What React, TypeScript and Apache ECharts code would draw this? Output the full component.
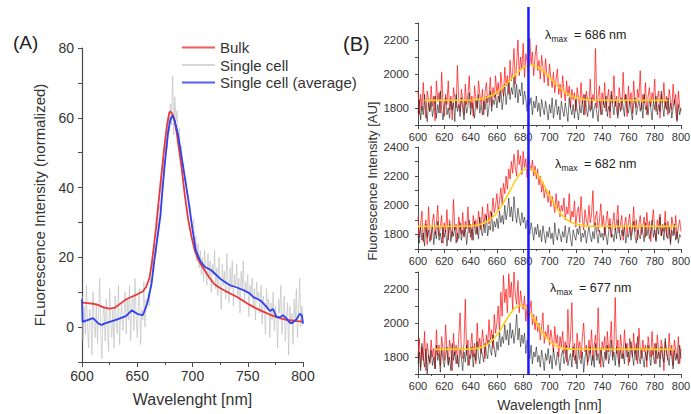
import React, { useEffect, useRef } from 'react';
import * as echarts from 'echarts';

const FONT = '"Liberation Sans", Arial, Helvetica, sans-serif';

// ---------- Panel A ----------
const A_X_TICKS = [600, 650, 700, 750, 800];
const A_Y_TICKS = [0, 20, 40, 60, 80];

const BULK: number[][] = [
  [600, 7], [605, 6.9], [610, 6.7], [615, 6.3], [620, 5.6], [625, 5.3], [630, 5.6], [635, 6.8],
  [640, 8], [645, 8.7], [650, 9.4], [655, 10.2], [658, 11.5], [661, 14], [663, 18], [665, 23],
  [667, 28.5], [670, 38], [673, 47], [675, 53], [677, 58], [679, 61.5], [680, 61.8], [682, 61],
  [684, 59], [686, 55], [688, 50.5], [690, 46], [693, 38], [696, 31], [699, 26], [702, 22],
  [705, 19.5], [708, 17.8], [711, 16.3], [715, 14.3], [720, 12.2], [725, 11.2], [730, 10.3],
  [735, 9.5], [740, 8.7], [745, 7.7], [750, 6.7], [755, 5.8], [760, 5], [765, 4.3], [770, 3.6],
  [775, 3], [780, 2.5], [785, 2.1], [790, 1.9], [795, 1.7], [800, 1.6],
];

const AVERAGE: number[][] = [
  [600, 8], [600.5, 1.5], [605, 2], [610, 2.6], [615, 1], [618, 0.6], [620, 1], [625, 1.5],
  [630, 2], [635, 2.6], [640, 3.2], [645, 4.8], [650, 3.8], [655, 3.4], [658, 5.8], [660, 8],
  [663, 12.6], [665, 18], [668, 25], [671, 32], [673, 40], [675, 47], [678, 56], [680, 59.5],
  [682, 60.7], [684, 59], [687, 55], [690, 49], [692, 45], [696, 37], [700, 28], [703, 22],
  [707, 19], [711, 17.3], [717, 16.3], [722, 14.8], [725, 13.9], [730, 12.8], [734, 12],
  [739, 11.5], [743, 11], [748, 10.3], [752, 9.6], [755, 8.6], [758, 8.2], [762, 7.5],
  [767, 5.8], [770, 4.6], [773, 5.2], [776, 2.9], [779, 2.8], [782, 3.4], [785, 2.5],
  [788, 1.3], [790, 1.1], [794, 2.2], [797, 3.8], [799, 3.4], [800, 1],
];

// Single cell trace, 1 nm steps from 600 to 800
const SINGLE_CELL: number[] = [
  9, -4, 6, -2, 12, 0, -6, 5, 3, -8, 10, 1, -3, 7, -5, 4, 14, -2, -9, 3,
  6, -4, 8, 0, -7, 11, 2, -3, 5, -6, 9, 1, -2, 12, -5, 4, 7, -1, 3, 10,
  -2, 8, 2, 12, -4, 6, 9, -1, 14, 3, -3, 7, 11, -5, 5, 2, 13, 0, 8, 6,
  10, 6, 14, 11, 19, 16, 24, 21, 30, 27, 35, 33, 42, 39, 48, 46, 55, 51, 60, 56,
  64, 58, 72, 55, 66, 59, 62, 53, 57, 50, 52, 46, 47, 42, 43, 38, 38, 34, 35, 30,
  28, 31, 22, 26, 19, 24, 17, 22, 15, 20, 13, 22, 16, 12, 21, 14, 19, 10, 18, 15,
  22, 11, 17, 9, 20, 14, 5, 18, 12, 16, 8, 21, 13, 7, 17, 11, 19, 6, 15, 12,
  18, 9, 14, 4, 16, 11, 19, 7, 13, 10, 15, 3, 12, 9, 14, 6, 11, 2, 13, 8,
  10, 4, 12, 1, 9, 6, -2, 11, 5, 8, -3, 7, 2, 10, -1, 6, 3, -6, 8, 4,
  12, -2, 5, 9, -4, 3, 7, -8, 6, 1, 4, -5, 8, 2, 11, -3, 5, 14, 0, 6,
  3,
];

// ---------- Panel B (1 nm steps, 600..800) ----------
const B_X_START = 600;
const B_BLUE_LINE = 684;
const B_LAMBDA_MAX = ['686', '682', '677'];

const B1_RED = [
  1905, 1760, 1880, 1790, 1950, 1820, 1740, 1900, 1850, 1780,
  1930, 1810, 1870, 1725, 1960, 1840, 1890, 1770, 2010, 1830,
  1750, 1880, 1820, 1960, 1790, 1870, 1730, 1920, 1860, 1800,
  2050, 1840, 1780, 1910, 1850, 1760, 1940, 1820, 1880, 1990,
  1800, 1870, 1750, 1930, 1850, 1790, 1960, 1880, 1820, 1910,
  1760, 1890, 1950, 1830, 1870, 1980, 1810, 1920, 1860, 1990,
  1880, 1950, 1840, 2010, 1920, 1870, 2040, 1930, 1990, 1880,
  2080, 1960, 2010, 2150, 1940, 2060, 2200, 1990, 2100, 2030,
  2180, 1980, 2120, 2070, 2000, 2210, 2060, 2130, 1990, 2100,
  2170, 2020, 2080, 1970, 2110, 2040, 1950, 2090, 2000, 1930,
  2060, 1980, 1920, 2010, 1890, 1970, 2030, 1880, 1940, 1860,
  1990, 1900, 1840, 1960, 1870, 1930, 1800, 1910, 1850, 1890,
  1780, 1920, 1860, 1810, 1950, 1830, 1880, 1760, 1900, 1850,
  1820, 1970, 1790, 1880, 1840, 2150, 1800, 1870, 1930, 1760,
  1890, 1820, 1950, 1780, 1860, 1910, 1740, 1880, 1830, 1990,
  1810, 1870, 1760, 1920, 1850, 1790, 2010, 1840, 1880, 1750,
  1930, 1820, 1890, 1770, 1960, 1840, 1800, 1910, 1860, 2020,
  1790, 1880, 1830, 1950, 1760, 1870, 1920, 1810, 1890, 1840,
  1970, 1780, 1860, 1900, 1740, 1880, 1830, 1950, 1800, 1870,
  1760, 1910, 1850, 1790, 1940, 1820, 1880, 1730, 1900, 1810,
  1780,
];
const B1_BLACK = [
  1770, 1850, 1730, 1810, 1760, 1880, 1790, 1720, 1830, 1780,
  1840, 1750, 1800, 1870, 1740, 1820, 1770, 1900, 1790, 1730,
  1810, 1860, 1760, 1800, 1740, 1850, 1790, 1830, 1720, 1880,
  1780, 1820, 1750, 1860, 1800, 1730, 1840, 1770, 1810, 1890,
  1760, 1830, 1790, 1740, 1850, 1800, 1880, 1770, 1820, 1760,
  1840, 1790, 1870, 1750, 1810, 1900, 1780, 1850, 1820, 1880,
  1800, 1870, 1830, 1910, 1790, 1860, 1940, 1820, 1890, 1960,
  1850, 1920, 1880, 1990, 1860, 1940, 1830, 1910, 1870, 1950,
  1820, 1900, 1850, 1780, 1880, 1820, 1860, 1760, 1840, 1800,
  1870, 1780, 1830, 1750, 1850, 1800, 1760, 1840, 1790, 1730,
  1820, 1770, 1860, 1740, 1800, 1850, 1760, 1810, 1730, 1840,
  1790, 1750, 1830, 1780, 1720, 1860, 1800, 1760, 1820, 1740,
  1850, 1790, 1730, 1810, 1770, 1840, 1760, 1880, 1800, 1750,
  1820, 1780, 1860, 1740, 1800, 1830, 1770, 1720, 1850, 1790,
  1760, 1840, 1800, 1870, 1750, 1810, 1780, 1900, 1820, 1760,
  1850, 1790, 1740, 1830, 1780, 1860, 1810, 1750, 1880, 1800,
  1770, 1840, 1790, 1730, 1820, 1860, 1760, 1800, 1850, 1780,
  1830, 1740, 1880, 1790, 1810, 1760, 1850, 1800, 1730, 1840,
  1790, 1870, 1760, 1820, 1780, 1900, 1810, 1750, 1840, 1790,
  1860, 1770, 1830, 1740, 1800, 1850, 1780, 1720, 1820, 1760,
  1800,
];
const B1_FIT: number[][] = [
  [605, 1845], [636, 1846], [641, 1847], [646, 1851], [651, 1859], [656, 1873], [661, 1897],
  [666, 1931], [671, 1972], [676, 2013], [681, 2044], [686, 2055], [691, 2044], [696, 2013],
  [701, 1972], [706, 1931], [711, 1897], [716, 1873], [721, 1859], [726, 1851], [731, 1847],
  [736, 1846], [790, 1845],
];

const B2_RED = [
  1920, 1780, 1870, 1960, 1750, 1850, 1900, 1730, 1990, 1820,
  1760, 1890, 1940, 1800, 1870, 2000, 1790, 1850, 1930, 1740,
  1880, 1820, 1970, 1760, 1900, 1840, 1780, 2040, 1830, 1870,
  1750, 1920, 1860, 1800, 1950, 1780, 1890, 1840, 1990, 1810,
  1870, 1760, 1930, 1850, 1900, 1800, 1960, 1880, 1830, 1990,
  1850, 1940, 1900, 2010, 1870, 1960, 1920, 2050, 1950, 2000,
  2080, 1960, 2030, 2120, 2000, 2150, 2080, 2200, 2110, 2250,
  2180, 2300, 2220, 2350, 2260, 2200, 2380, 2280, 2340, 2210,
  2370, 2260, 2320, 2190, 2350, 2280, 2240, 2310, 2200, 2270,
  2180, 2250, 2140, 2200, 2090, 2160, 2050, 2120, 2080, 2020,
  2100, 1990, 2060, 2010, 1950, 2080, 1970, 2030, 1920, 2000,
  1960, 2050, 1900, 1990, 1940, 2080, 1880, 1960, 1920, 2030,
  1850, 1950, 1990, 1880, 2060, 1910, 1830, 1970, 1900, 1860,
  2000, 1880, 1940, 2100, 1850, 1920, 1960, 1820, 1900, 2010,
  1860, 1930, 1790, 1890, 1960, 1840, 1910, 1780, 1870, 1950,
  1830, 1890, 2000, 1810, 1870, 1930, 1760, 1860, 1920, 1800,
  1880, 1940, 1790, 1850, 1990, 1820, 1900, 1760, 1870, 1930,
  1800, 1860, 1920, 1780, 1950, 1840, 1890, 1750, 1880, 1970,
  1830, 1760, 1900, 1850, 1940, 1790, 1870, 1820, 1960, 1780,
  1890, 1840, 1750, 1920, 1860, 1800, 1930, 1770, 1850, 1900,
  1820,
];
const B2_BLACK = [
  1790, 1740, 1850, 1760, 1810, 1720, 1870, 1780, 1830, 1750,
  1800, 1860, 1730, 1820, 1770, 1890, 1760, 1810, 1740, 1850,
  1780, 1830, 1720, 1800, 1870, 1750, 1820, 1790, 1860, 1740,
  1810, 1770, 1880, 1760, 1830, 1790, 1850, 1730, 1820, 1900,
  1780, 1840, 1760, 1890, 1800, 1850, 1770, 1920, 1830, 1790,
  1870, 1810, 1930, 1790, 1860, 1830, 1950, 1820, 1890, 1850,
  1910, 1840, 1960, 1880, 1930, 1870, 2000, 1900, 1960, 2050,
  1920, 1990, 1890, 2060, 1940, 1880, 1980, 1910, 1860, 1950,
  1880, 1920, 1840, 1900, 1860, 1800, 1880, 1830, 1760, 1850,
  1800, 1870, 1780, 1830, 1750, 1860, 1800, 1740, 1820, 1780,
  1850, 1770, 1810, 1730, 1880, 1790, 1760, 1840, 1800, 1750,
  1820, 1780, 1860, 1740, 1800, 1850, 1770, 1720, 1830, 1790,
  1760, 1840, 1800, 1870, 1750, 1810, 1780, 1830, 1740, 1800,
  1860, 1790, 1750, 1820, 1770, 1880, 1800, 1740, 1830, 1780,
  1810, 1760, 1850, 1790, 1730, 1820, 1870, 1780, 1800, 1750,
  1840, 1770, 1900, 1810, 1760, 1830, 1790, 1860, 1740, 1800,
  1780, 1850, 1760, 1820, 1890, 1790, 1740, 1830, 1800, 1770,
  1860, 1810, 1750, 1880, 1790, 1840, 1770, 1820, 1900, 1780,
  1830, 1750, 1860, 1800, 1920, 1790, 1840, 1760, 1880, 1810,
  1770, 1850, 1730, 1830, 1790, 1870, 1760, 1820, 1740, 1800,
  1780,
];
const B2_FIT: number[][] = [
  [600, 1855], [634, 1856], [639, 1857], [644, 1862], [649, 1873], [654, 1896], [659, 1937],
  [664, 2001], [669, 2083], [674, 2169], [679, 2235], [684, 2260], [689, 2235], [694, 2169],
  [699, 2083], [704, 2001], [709, 1937], [714, 1896], [719, 1873], [724, 1862], [729, 1857],
  [734, 1856], [797, 1855],
];

const B3_RED = [
  1800, 1910, 1740, 1860, 1780, 1950, 1720, 1880, 1820, 1760,
  1900, 1800, 1850, 1730, 1960, 1810, 1870, 1750, 1920, 1840,
  1780, 1990, 1830, 1760, 1900, 1850, 1720, 1940, 1810, 1870,
  1760, 1920, 2060, 1830, 1790, 1880, 2140, 1810, 1900, 1750,
  1860, 1940, 1800, 1880, 1760, 2000, 1850, 1910, 1820, 1960,
  1880, 1790, 1930, 1870, 2020, 1900, 1960, 1850, 2050, 1940,
  2000, 2100, 1950, 2180, 2040, 2280, 2120, 2200, 2060, 2290,
  2150, 2240, 2080, 2300, 2170, 2110, 2250, 2060, 2190, 2120,
  2080, 2160, 2010, 2110, 1980, 2070, 2130, 1990, 2050, 1960,
  2040, 1950, 2000, 1900, 1980, 2060, 1880, 1950, 1910, 1990,
  1870, 1960, 1900, 1830, 1980, 1880, 1930, 1800, 1920, 1860,
  1950, 1820, 1890, 1770, 2080, 1850, 1910, 2120, 1800, 1880,
  1760, 1940, 1850, 1890, 1790, 1920, 2000, 1830, 1870, 1750,
  1900, 1820, 1960, 1780, 1870, 1930, 1810, 2090, 1860, 1740,
  1890, 1840, 1920, 1780, 1950, 1830, 1880, 2010, 1800, 1870,
  2150, 1820, 1900, 1760, 1930, 1850, 1790, 1960, 1840, 1880,
  1750, 1910, 1860, 1800, 1940, 1820, 1880, 1760, 1970, 1850,
  1790, 1900, 1830, 1870, 1740, 1920, 1860, 1800, 1950, 1810,
  1880, 1760, 1930, 1840, 1790, 1900, 1850, 1720, 1890, 1830,
  1780, 1940, 1810, 1870, 1750, 1900, 1840, 1790, 1920, 1760,
  1850,
];
const B3_BLACK = [
  1760, 1830, 1720, 1880, 1790, 1740, 1850, 1700, 1810, 1770,
  1840, 1750, 1800, 1730, 1870, 1780, 1820, 1710, 1850, 1790,
  1740, 1810, 1860, 1750, 1800, 1720, 1880, 1780, 1830, 1760,
  1810, 1740, 1850, 1790, 1720, 1830, 1770, 1870, 1750, 1810,
  1790, 1860, 1740, 1820, 1780, 1890, 1800, 1760, 1850, 1810,
  1770, 1880, 1820, 1790, 1900, 1840, 1810, 1930, 1850, 1800,
  1890, 1840, 1950, 1860, 1920, 1880, 1990, 1900, 1960, 1870,
  2000, 1910, 1960, 1880, 1940, 2050, 1900, 1970, 1860, 1930,
  1880, 1940, 1820, 1900, 1850, 1790, 1870, 1760, 1830, 1800,
  1860, 1770, 1810, 1740, 1840, 1790, 1720, 1820, 1780, 1850,
  1760, 1810, 1730, 1850, 1790, 1750, 1830, 1780, 1720, 1810,
  1840, 1760, 1800, 1870, 1750, 1790, 1820, 1740, 1860, 1780,
  1810, 1730, 1850, 1790, 1760, 1830, 1710, 1800, 1840, 1770,
  1790, 1860, 1750, 1810, 1740, 1880, 1780, 1820, 1760, 1850,
  1800, 1740, 1830, 1790, 1870, 1760, 1810, 1900, 1780, 1830,
  1750, 1860, 1800, 1740, 1850, 1790, 1820, 1760, 1880, 1800,
  1830, 1770, 1890, 1810, 1750, 1840, 1780, 1920, 1800, 1760,
  1850, 1790, 1740, 1830, 1780, 1870, 1810, 1750, 1840, 1800,
  1760, 1880, 1790, 1830, 1740, 1860, 1800, 1770, 1910, 1820,
  1790, 1750, 1850, 1800, 1730, 1840, 1780, 1820, 1760, 1870,
  1790,
];
const B3_FIT: number[][] = [
  [613, 1845], [638, 1846], [642, 1848], [646, 1852], [650, 1862], [654, 1880], [658, 1910],
  [662, 1952], [666, 2003], [670, 2053], [674, 2091], [678, 2105], [682, 2091], [686, 2053],
  [690, 2003], [694, 1952], [698, 1910], [702, 1880], [706, 1862], [710, 1852], [714, 1848],
  [718, 1846], [795, 1845],
];

const B_Y_RANGES = [
  [1700, 2300],
  [1700, 2400],
  [1700, 2300],
];

const toPairs = (arr: number[], start: number) => arr.map((v, i) => [start + i, v]);

const AXIS_COLOR = '#4a4a4a';
const LABEL_COLOR = '#333';
const RED_A = '#e8393a';
const GRAY_A = '#c2c2c2';
const BLUE_A = '#3040ee';

function buildOption() {
  const gridsB = [
    { left: 418, right: 10, top: 23, height: 102 },
    { left: 418, right: 10, top: 147, height: 102 },
    { left: 418, right: 10, top: 272, height: 102 },
  ];
  const grids: any[] = [
    { left: 82, width: 221, top: 48, height: 314 },
    ...gridsB,
    { left: 418, right: 10, top: 7, height: 368 },
  ].map((g) => ({ ...g, containLabel: false, outerBoundsMode: 'none' }));

  const xAxes: any[] = [
    {
      type: 'value', gridIndex: 0, min: 600, max: 800, interval: 50,
      axisLine: { show: true, onZero: false, lineStyle: { color: AXIS_COLOR, width: 1.2 } },
      axisTick: { show: true, length: 5, lineStyle: { color: AXIS_COLOR } },
      minorTick: { show: true, splitNumber: 2, length: 3, lineStyle: { color: AXIS_COLOR } },
      axisLabel: {
        color: LABEL_COLOR, fontSize: 14, fontFamily: FONT, margin: 7,
        formatter: (v: number) => (A_X_TICKS.includes(v) ? String(v) : ''),
      },
      splitLine: { show: false },
      name: 'Wavelenght [nm]', nameLocation: 'middle', nameGap: 29,
      nameTextStyle: { fontSize: 16, color: '#333', fontFamily: FONT },
    },
    ...gridsB.map((_, i) => ({
      type: 'value', gridIndex: i + 1, min: 600, max: 800, interval: 20,
      axisLine: { show: true, onZero: false, lineStyle: { color: AXIS_COLOR, width: 1 } },
      axisTick: { show: true, length: 4, lineStyle: { color: AXIS_COLOR } },
      minorTick: { show: true, splitNumber: 2, length: 2, lineStyle: { color: AXIS_COLOR } },
      axisLabel: { color: LABEL_COLOR, fontSize: 11, fontFamily: FONT, margin: 6 },
      splitLine: { show: false },
      ...(i === 2
        ? {
            name: 'Wavelength [nm]', nameLocation: 'middle', nameGap: 24,
            nameTextStyle: { fontSize: 14, color: '#333', fontFamily: FONT },
          }
        : {}),
    })),
    { type: 'value', gridIndex: 4, min: 600, max: 800, show: false },
  ];

  const yAxes: any[] = [
    {
      type: 'value', gridIndex: 0, min: -10, max: 80, interval: 10,
      axisLine: { show: true, onZero: false, lineStyle: { color: AXIS_COLOR, width: 1.2 } },
      axisTick: { show: true, length: 4, lineStyle: { color: AXIS_COLOR } },
      axisLabel: {
        color: LABEL_COLOR, fontSize: 14, fontFamily: FONT, margin: 8,
        formatter: (v: number) => (A_Y_TICKS.includes(v) ? String(v) : ''),
      },
      splitLine: { show: false },
      name: 'FLuorescence Intensity (normalized)', nameLocation: 'middle', nameGap: 35,
      nameTextStyle: { fontSize: 15, color: '#333', fontFamily: FONT },
    },
    ...B_Y_RANGES.map((r, i) => ({
      type: 'value', gridIndex: i + 1, min: r[0], max: r[1], interval: 100,
      axisLine: { show: true, onZero: false, lineStyle: { color: AXIS_COLOR, width: 1 } },
      axisTick: { show: true, length: 3, lineStyle: { color: AXIS_COLOR } },
      axisLabel: {
        color: LABEL_COLOR, fontSize: 11.5, fontFamily: FONT, margin: 9,
        formatter: (v: number) => (v % 200 === 0 ? String(v) : ''),
      },
      splitLine: { show: false },
    })),
    { type: 'value', gridIndex: 4, min: 0, max: 1, show: false },
  ];

  const line = (extra: any) => ({
    type: 'line', symbol: 'none', silent: true, clip: true, ...extra,
  });

  const series: any[] = [
    line({
      name: 'Single cell', xAxisIndex: 0, yAxisIndex: 0,
      data: toPairs(SINGLE_CELL, 600),
      lineStyle: { color: GRAY_A, width: 0.7 }, itemStyle: { color: '#d6d6d6' },
    }),
    line({
      name: 'Bulk', xAxisIndex: 0, yAxisIndex: 0, data: BULK,
      lineStyle: { color: RED_A, width: 1.8 }, itemStyle: { color: '#f05a5a' },
    }),
    line({
      name: 'Single cell (average)', xAxisIndex: 0, yAxisIndex: 0, data: AVERAGE,
      lineStyle: { color: BLUE_A, width: 1.8 }, itemStyle: { color: '#5560f0' },
    }),
  ];

  const B_SETS = [
    [B1_RED, B1_BLACK, B1_FIT],
    [B2_RED, B2_BLACK, B2_FIT],
    [B3_RED, B3_BLACK, B3_FIT],
  ] as const;
  B_SETS.forEach(([red, black, fit], i) => {
    series.push(
      line({
        name: 'red' + i, xAxisIndex: i + 1, yAxisIndex: i + 1,
        data: toPairs(red as number[], B_X_START),
        lineStyle: { color: '#ff1010', width: 0.9, opacity: 0.8 },
      }),
      line({
        name: 'black' + i, xAxisIndex: i + 1, yAxisIndex: i + 1,
        data: toPairs(black as number[], B_X_START),
        lineStyle: { color: '#111', width: 0.8, opacity: 0.7 },
      }),
      line({
        name: 'fit' + i, xAxisIndex: i + 1, yAxisIndex: i + 1, data: fit,
        lineStyle: { color: '#ffd01a', width: 1.6 },
      }),
    );
  });
  series.push(
    line({
      name: 'marker', xAxisIndex: 4, yAxisIndex: 4,
      data: [[B_BLUE_LINE, 0], [B_BLUE_LINE, 1]],
      lineStyle: { color: '#1a1aff', width: 2.5 }, z: 10,
    }),
  );

  const lambdaPos = [
    { x: 545, y: 35 },
    { x: 555, y: 164 },
    { x: 550, y: 288 },
  ];
  const lambdaGraphics = lambdaPos.map((p, i) => ({
    type: 'group',
    children: [
      {
        type: 'text', x: p.x, y: p.y,
        style: { text: 'λ', fontSize: 12.5, fontFamily: FONT, fill: '#222', verticalAlign: 'middle' },
      },
      {
        type: 'text', x: p.x + 6.5, y: p.y + 4,
        style: { text: 'max', fontSize: 8.5, fontFamily: FONT, fill: '#222', verticalAlign: 'middle' },
      },
      {
        type: 'text', x: p.x + 29, y: p.y,
        style: {
          text: '= ' + B_LAMBDA_MAX[i] + ' nm', fontSize: 12.5, fontFamily: FONT, fill: '#222',
          verticalAlign: 'middle',
        },
      },
    ],
  }));

  return {
    animation: false,
    backgroundColor: '#fff',
    grid: grids,
    xAxis: xAxes,
    yAxis: yAxes,
    legend: {
      data: [
        { name: 'Bulk', icon: 'rect' },
        { name: 'Single cell', icon: 'rect' },
        { name: 'Single cell (average)', icon: 'rect' },
      ],
      orient: 'vertical', left: 182, top: 40, padding: 0,
      itemWidth: 33, itemHeight: 2, itemGap: 2.5,
      textStyle: { fontSize: 15, color: '#333', fontFamily: FONT, padding: [0, 0, 0, 0] },
      selectedMode: false,
    },
    series,
    graphic: [
      {
        type: 'text', x: 13, y: 42,
        style: { text: '(A)', fontSize: 19, fontFamily: FONT, fill: '#222', verticalAlign: 'middle' },
      },
      {
        type: 'text', x: 343, y: 44,
        style: { text: '(B)', fontSize: 20, fontFamily: FONT, fill: '#222', verticalAlign: 'middle' },
      },
      {
        type: 'text', x: 372, y: 181, rotation: Math.PI / 2,
        style: {
          text: 'Fluorescence Intensity [AU]', fontSize: 13, fontFamily: FONT, fill: '#333',
          align: 'center', verticalAlign: 'middle',
        },
      },
      ...lambdaGraphics,
    ],
  };
}

export default function App() {
  const ref = useRef<HTMLDivElement>(null);
  useEffect(() => {
    const chart = echarts.init(ref.current as HTMLDivElement, null, { renderer: 'svg' });
    chart.setOption(buildOption() as any);
    return () => chart.dispose();
  }, []);
  return (
    <div
      ref={ref}
      style={{ position: 'fixed', left: 0, top: 0, width: 691, height: 414, background: '#fff' }}
    />
  );
}
